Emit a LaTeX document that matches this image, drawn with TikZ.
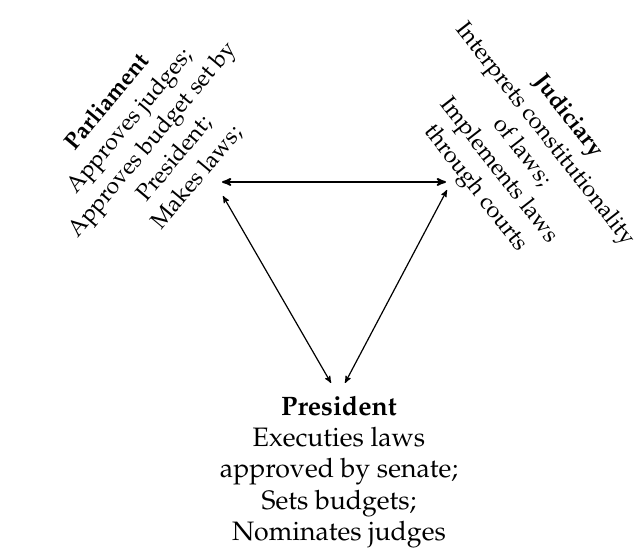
\documentclass[tikz,border=0pt]{standalone}
\usepackage[T1]{fontenc}
\usepackage{mathpazo}
\usetikzlibrary{arrows}

\begin{document}
\begin{tikzpicture}[x=0.75pt,y=0.75pt,yscale=-1,xscale=1,
  branch/.style={inner sep=0.75pt,align=center,font=\fontsize{17.5}{22}\selectfont},
  link/.style={stealth'-stealth',line width=0.9pt}]
\useasboundingbox (0,0) rectangle (637,552);

% Text Node
\node (parl) at (152,140) [branch,rotate=50] {\textbf{Parliament}\\Approves judges;\\Approves budget set by\\President;\\Makes laws;};
% Text Node
\node (jud) at (521,153) [branch,rotate=-52] {\textbf{Judiciary}\\Interprets constitutionality\\of laws;\\Implements laws\\through courts};
% Text Node
\node (pres) at (339,472) [inner sep=0.75pt,align=center,font=\fontsize{20}{23.4}\selectfont] {\textbf{President}\\Executies laws\\approved by senate;\\Sets budgets;\\Nominates judges};

% arrow ends
\coordinate (parlR) at (222,182);
\coordinate (parlD) at (223,196);
\coordinate (judL) at (446,182);
\coordinate (judD) at (447,190);
\coordinate (presL) at (331,383);
\coordinate (presR) at (345,383);

\draw [link,line width=1.4pt] (parlR) -- (judL);
\draw [link] (parlD) -- (presL);
\draw [link] (judD) -- (presR);

\end{tikzpicture}
\end{document}
